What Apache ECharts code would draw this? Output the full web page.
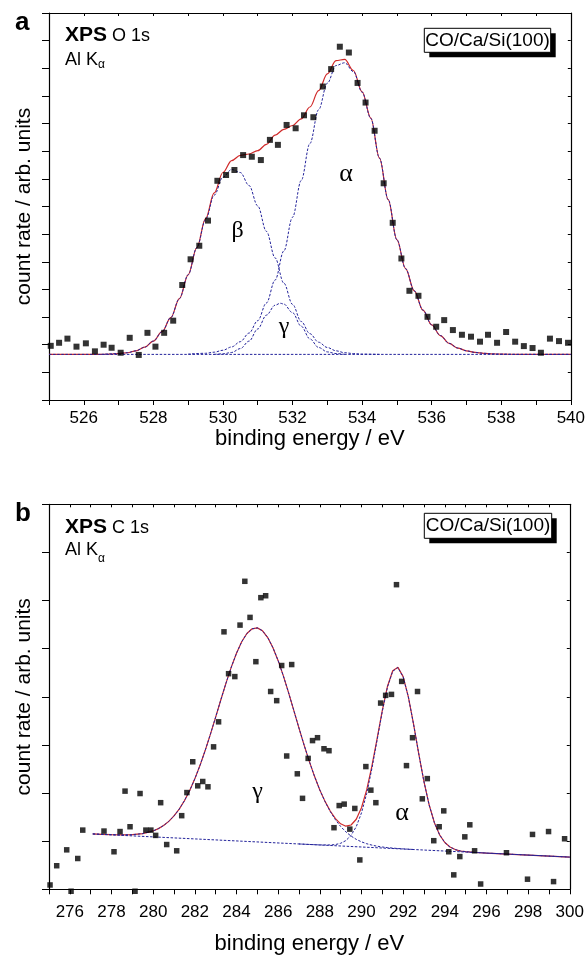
<!DOCTYPE html>
<html><head><meta charset="utf-8">
<script src="https://cdn.jsdelivr.net/npm/echarts@6/dist/echarts.min.js"></script>
<style>html,body{margin:0;padding:0;background:#fff}#c{width:588px;height:958px}</style>
</head><body><div id="c"></div>
<script>
// ---------- Panel a : O 1s ----------
const pA_E = [525.05,525.29,525.53,525.79,526.06,526.32,526.57,526.80,527.06,527.32,527.58,527.83,528.06,528.31,528.57,528.83,529.07,529.32,529.57,529.84,530.09,530.33,530.58,530.83,531.09,531.35,531.58,531.83,532.09,532.33,532.60,532.87,533.11,533.36,533.62,533.87,534.10,534.36,534.62,534.88,535.13,535.36,535.62,535.88,536.13,536.36,536.61,536.87,537.13,537.39,537.62,537.88,538.14,538.40,538.65,538.90,539.14,539.40,539.66,539.92];
const pA_V = [1.96,2.07,2.22,1.93,2.05,1.76,2.00,1.89,1.71,2.25,1.63,2.43,1.93,2.43,2.87,4.16,5.09,5.58,6.49,7.93,8.14,8.32,8.86,8.80,8.68,9.41,9.23,9.95,9.83,10.30,10.23,11.34,11.97,12.78,12.57,11.47,10.76,9.74,7.84,6.41,5.12,3.95,3.77,3.01,2.65,2.89,2.53,2.36,2.29,2.11,2.36,2.07,2.46,2.11,1.95,1.88,1.71,2.22,2.13,2.07];

const envA_E = [525,526.5,526.75,527,527.25,527.5,527.75,528,528.25,528.5,528.75,529,529.25,529.5,529.75,530,530.25,530.5,530.75,531,531.25,531.5,531.75,532,532.25,532.5,532.75,533,533.25,533.5,533.75,534,534.25,534.5,534.75,535,535.25,535.5,535.75,536,536.25,536.5,536.75,537,537.25,537.5,537.75,538,538.5,540];
const envA_V = [1.65,1.65,1.66,1.68,1.71,1.78,1.91,2.13,2.47,2.98,3.67,4.53,5.51,6.56,7.49,8.23,8.66,8.85,8.90,9.02,9.25,9.58,9.79,9.93,10.17,10.60,11.19,11.80,12.28,12.32,11.92,11.15,10.20,8.75,7.25,5.80,4.75,3.95,3.25,2.72,2.33,2.05,1.88,1.78,1.72,1.69,1.67,1.66,1.65,1.65];

const betaA_E = [526.5,527,527.25,527.5,527.75,528,528.25,528.5,528.75,529,529.25,529.5,529.75,530,530.25,530.5,530.75,531,531.25,531.5,531.75,532,532.25,532.5,532.75,533,533.25,533.5,533.75,534,534.5];
const betaA_V = [1.65,1.68,1.71,1.78,1.91,2.13,2.47,2.98,3.67,4.53,5.51,6.52,7.41,8.06,8.34,8.23,7.76,7.02,6.10,5.14,4.23,3.46,2.84,2.40,2.09,1.90,1.78,1.71,1.68,1.66,1.65];

const alphaA_E = [529,529.5,529.75,530,530.25,530.5,530.75,531,531.25,531.5,531.75,532,532.25,532.5,532.75,533,533.25,533.5,533.75,534,534.25,534.5,534.75,535,535.25,535.5,535.75,536,536.25,536.5,536.75,537,537.25,537.5,537.75,538,538.5,540];
const alphaA_V = [1.66,1.69,1.73,1.80,1.92,2.11,2.42,2.87,3.51,4.34,5.39,6.61,7.94,9.28,10.50,11.46,12.10,12.20,11.88,11.14,10.19,8.75,7.25,5.80,4.75,3.95,3.25,2.72,2.33,2.05,1.88,1.78,1.72,1.69,1.67,1.66,1.65,1.65];

const gammaA_E = [529.75,530,530.25,530.5,530.75,531,531.25,531.5,531.65,531.75,532,532.25,532.5,532.75,533,533.25,533.5];
const gammaA_V = [1.65,1.67,1.72,1.86,2.13,2.57,3.07,3.43,3.50,3.47,3.16,2.67,2.21,1.90,1.74,1.68,1.65];

const baseA_E = [525,540];
const baseA_V = [1.65,1.65];

// ---------- Panel b : C 1s ----------
const pB_E = [275.05,275.37,275.85,276.06,276.38,276.62,277.64,278.12,278.41,278.65,278.89,279.13,279.37,279.65,279.89,280.12,280.36,280.65,281.13,281.37,281.62,281.90,282.14,282.38,282.63,282.90,283.14,283.40,283.62,283.92,284.17,284.40,284.65,284.93,285.17,285.40,285.64,285.93,286.17,286.41,286.65,286.92,287.17,287.44,287.65,287.89,288.20,288.44,288.68,288.93,289.17,289.44,289.68,289.92,290.21,290.45,290.69,290.92,291.16,291.44,291.68,291.93,292.16,292.45,292.69,292.92,293.16,293.47,293.73,293.95,294.19,294.43,294.72,294.96,295.20,295.43,295.72,296.96,297.97,298.21,298.98,299.22,299.75];
const pB_V = [0.09,0.49,0.82,-0.04,0.64,1.23,1.21,0.78,1.20,2.04,1.30,-0.04,1.99,1.23,1.23,1.12,1.80,0.93,0.80,1.53,2.01,2.65,2.15,2.24,2.13,2.96,3.48,5.35,4.48,4.42,5.49,6.40,5.65,4.73,6.06,6.10,4.11,3.92,4.65,2.77,4.67,2.40,1.89,2.72,3.09,3.15,2.92,2.88,1.28,1.74,1.77,1.25,1.68,0.61,2.55,2.06,1.80,3.87,4.03,4.05,6.33,4.32,2.57,3.15,4.11,1.88,2.30,1.01,1.30,1.63,0.78,0.30,0.68,1.09,1.34,0.80,0.11,0.76,0.21,1.14,1.20,0.16,1.05];

const envB_E = [277.1,277.5,278,278.5,279,279.5,280,280.25,280.5,280.75,281,281.25,281.5,281.75,282,282.25,282.5,282.75,283,283.25,283.5,283.75,284,284.25,284.5,284.75,285,285.25,285.5,285.75,286,286.25,286.5,286.75,287,287.25,287.5,287.75,288,288.25,288.5,288.75,289,289.25,289.5,289.75,290,290.25,290.5,290.75,291,291.25,291.5,291.75,292,292.25,292.5,292.75,293,293.25,293.5,293.75,294,294.25,294.5,294.75,295,295.5,296,297,298,299,300];
const envB_V = [1.15,1.143,1.135,1.131,1.135,1.158,1.213,1.261,1.325,1.411,1.524,1.665,1.840,2.049,2.295,2.576,2.888,3.225,3.579,3.939,4.289,4.616,4.905,5.143,5.315,5.413,5.432,5.371,5.232,5.021,4.751,4.434,4.086,3.719,3.350,2.992,2.653,2.342,2.065,1.827,1.627,1.470,1.361,1.311,1.336,1.456,1.695,2.065,2.558,3.132,3.719,4.220,4.540,4.612,4.419,3.999,3.431,2.814,2.235,1.751,1.385,1.132,0.972,0.878,0.826,0.796,0.781,0.765,0.753,0.732,0.711,0.690,0.669];

const gammaB_E = [277.1,277.5,278,278.5,279,279.5,280,280.25,280.5,280.75,281,281.25,281.5,281.75,282,282.25,282.5,282.75,283,283.25,283.5,283.75,284,284.25,284.5,284.75,285,285.25,285.5,285.75,286,286.25,286.5,286.75,287,287.25,287.5,287.75,288,288.25,288.5,288.75,289,289.25,289.5,289.75,290,290.25,290.5,290.75,291,291.25,291.5,292,292.5];
const gammaB_V = [1.15,1.143,1.135,1.131,1.135,1.158,1.213,1.261,1.325,1.411,1.524,1.665,1.840,2.049,2.295,2.576,2.888,3.225,3.579,3.939,4.289,4.616,4.905,5.143,5.315,5.413,5.432,5.371,5.232,5.021,4.751,4.434,4.086,3.719,3.350,2.992,2.653,2.342,2.064,1.823,1.617,1.445,1.305,1.194,1.106,1.038,0.986,0.947,0.918,0.895,0.879,0.866,0.856,0.840,0.827];

const alphaB_E = [287,287.5,288,288.5,288.75,289,289.25,289.5,289.75,290,290.25,290.5,290.75,291,291.25,291.5,291.75,292,292.25,292.5,292.75,293,293.25,293.5,293.75,294,294.25,294.5,294.75,295,295.5,296,297,298,299,300];
const alphaB_V = [0.942,0.932,0.922,0.921,0.930,0.956,1.012,1.120,1.302,1.588,1.992,2.509,3.100,3.698,4.207,4.532,4.607,4.416,3.997,3.431,2.814,2.235,1.751,1.385,1.132,0.972,0.878,0.826,0.796,0.781,0.765,0.753,0.732,0.711,0.690,0.669];

const baseB_E = [277.1,300];
const baseB_V = [1.15,0.669];

// tick labels
const xTicksA = [526,528,530,532,534,536,538,540];
const xTicksB = [276,278,280,282,284,286,288,290,292,294,296,298,300];

const FONT = '"Liberation Sans", Arial, Helvetica, sans-serif';
const SERIF = '"Liberation Serif", "DejaVu Serif", serif';
const RED = '#d02a2a';
const BLUE = '#23239b';

const zip = (a, b) => a.map((x, i) => [x, b[i]]);

function xAxes(g, min, max, ticks, margin, gap) {
  return [{
    gridIndex: g, type: 'value', min: min, max: max, interval: 1, position: 'bottom',
    axisLine: {onZero: false, lineStyle: {color: '#000', width: 1.2}},
    axisTick: {length: 5, lineStyle: {color: '#000', width: 1}},
    axisLabel: {margin: margin, fontSize: 17, color: '#000', fontFamily: FONT,
      formatter: v => ticks.indexOf(Math.round(v)) >= 0 ? String(Math.round(v)) : ''},
    splitLine: {show: false},
    name: 'binding energy / eV', nameLocation: 'middle', nameGap: gap,
    nameTextStyle: {fontSize: 22, color: '#000', fontFamily: FONT}
  }, {
    gridIndex: g, type: 'value', min: min, max: max, interval: 1, position: 'top',
    axisLine: {onZero: false, lineStyle: {color: '#000', width: 1.2}},
    axisTick: {inside: true, length: 3, lineStyle: {color: '#000', width: 1}},
    axisLabel: {show: false}, splitLine: {show: false}
  }];
}
function yAxes(g, max) {
  return [{
    gridIndex: g, type: 'value', min: 0, max: max, interval: 1, position: 'left',
    axisLine: {show: true, onZero: false, lineStyle: {color: '#000', width: 1.2}},
    axisTick: {show: true, length: 7, lineStyle: {color: '#000', width: 1}},
    axisLabel: {show: false}, splitLine: {show: false},
    name: 'count rate / arb. units', nameLocation: 'middle', nameGap: 14,
    nameTextStyle: {fontSize: 21, color: '#000', fontFamily: FONT}
  }, {
    gridIndex: g, type: 'value', min: 0, max: max, interval: 1, position: 'right',
    axisLine: {show: true, onZero: false, lineStyle: {color: '#000', width: 1.2}},
    axisTick: {show: true, inside: true, length: 3, lineStyle: {color: '#000', width: 1}},
    axisLabel: {show: false}, splitLine: {show: false}
  }];
}

function fit(data, xi, yi, color, dashed, smooth) {
  return {
    type: 'line', xAxisIndex: xi, yAxisIndex: yi, data: data, symbol: 'none',
    smooth: smooth, smoothMonotone: 'x', silent: true,
    lineStyle: {color: color, width: dashed ? 1 : 1.2, type: dashed ? [2.5, 1.6] : 'solid'},
    z: dashed ? 3 : 2
  };
}
function pts(data, xi, yi, size) {
  return {
    type: 'scatter', xAxisIndex: xi, yAxisIndex: yi, data: data, symbol: 'rect',
    symbolSize: size, itemStyle: {color: '#000'}, clip: false, silent: true, z: 5
  };
}

function txt(x, y, s, font, align) {
  return {type: 'text', x: x, y: y, silent: true, z: 100,
    style: {text: s, font: font, fill: '#000', align: align || 'left', verticalAlign: 'middle'}};
}
function box(x, y, w, h, cx, cy) {
  return [
    {type: 'rect', shape: {x: x + 5, y: y + 5, width: w, height: h}, style: {fill: '#000'}, z: 90, silent: true},
    {type: 'rect', shape: {x: x, y: y, width: w, height: h}, style: {fill: '#fff', stroke: '#000', lineWidth: 1}, z: 91, silent: true},
    txt(cx, cy, 'CO/Ca/Si(100)', '19px ' + FONT, 'center')
  ];
}

const chart = echarts.init(document.getElementById('c'), null, {renderer: 'canvas'});
chart.setOption({
  animation: false,
  backgroundColor: '#fff',
  grid: [
    {left: 49, top: 13, width: 523.7, height: 387},
    {left: 49, top: 504.3, width: 520.8, height: 385}
  ],
  xAxis: [].concat(xAxes(0, 525, 540, xTicksA, 10, 28), xAxes(1, 275, 300, xTicksB, 15, 44)),
  yAxis: [].concat(yAxes(0, 14), yAxes(1, 8)),
  series: [
    fit(zip(envA_E, envA_V), 0, 0, RED, false, 0.35),
    fit(zip(baseA_E, baseA_V), 0, 0, BLUE, true, false),
    fit(zip(betaA_E, betaA_V), 0, 0, BLUE, true, 0.35),
    fit(zip(alphaA_E, alphaA_V), 0, 0, BLUE, true, 0.35),
    fit(zip(gammaA_E, gammaA_V), 0, 0, BLUE, true, 0.35),
    pts(zip(pA_E, pA_V), 0, 0, 6),
    fit(zip(envB_E, envB_V), 2, 2, RED, false, false),
    fit(zip(baseB_E, baseB_V), 2, 2, BLUE, true, false),
    fit(zip(gammaB_E, gammaB_V), 2, 2, BLUE, true, false),
    fit(zip(alphaB_E, alphaB_V), 2, 2, BLUE, true, false),
    pts(zip(pB_E, pB_V), 2, 2, 5.5)
  ],
  graphic: [].concat([
    txt(15, 23.2, 'a', 'bold 26px ' + FONT),
    txt(65, 35.5, 'XPS', 'bold 21px ' + FONT),
    txt(112, 36.4, 'O 1s', '18px ' + FONT),
    txt(65, 59.7, 'Al K', '18px ' + FONT),
    txt(98, 64.5, 'α', '12px ' + FONT),
    txt(237.5, 231, 'β', '24px ' + SERIF, 'center'),
    txt(346, 174, 'α', '26px ' + SERIF, 'center'),
    txt(284, 327, 'γ', '24px ' + SERIF, 'center'),
    txt(15, 514.2, 'b', 'bold 26px ' + FONT),
    txt(65, 526.8, 'XPS', 'bold 21px ' + FONT),
    txt(112, 527.7, 'C 1s', '18px ' + FONT),
    txt(65, 549.7, 'Al K', '18px ' + FONT),
    txt(98, 559, 'α', '12px ' + FONT),
    txt(257.5, 791.5, 'γ', '24px ' + SERIF, 'center'),
    txt(402, 813, 'α', '26px ' + SERIF, 'center')
  ], box(424.3, 28.3, 126.4, 24, 487.5, 40.8), box(424.3, 513.3, 127.4, 25, 488, 526))
});
</script></body></html>
